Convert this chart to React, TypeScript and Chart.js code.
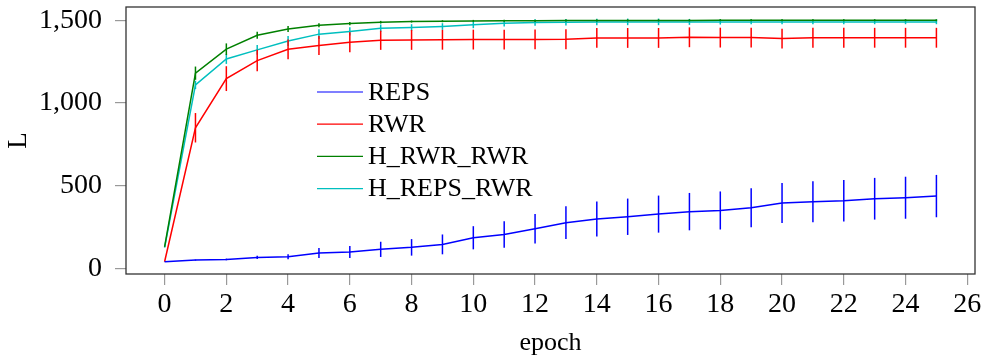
import React, { useEffect, useRef } from "react";
import { Chart, registerables } from "chart.js";

Chart.register(...registerables);

const epochs = [0, 1, 2, 3, 4, 5, 6, 7, 8, 9, 10, 11, 12, 13, 14, 15, 16, 17, 18, 19, 20, 21, 22, 23, 24, 25];
const xTickValues = [0, 2, 4, 6, 8, 10, 12, 14, 16, 18, 20, 22, 24, 26];
const yTickValues = [0, 500, 1000, 1500];

const seriesNames = ["REPS", "RWR", "H_RWR_RWR", "H_REPS_RWR"];

const repsMean = [40, 50, 54, 66, 70, 93, 99, 115, 127, 145, 185, 205, 240, 276, 298, 312, 328, 343, 350, 367, 395, 403, 409, 421, 427, 437];
const repsErr = [0, 3, 5, 10, 15, 30, 36, 46, 50, 60, 70, 80, 89, 99, 106, 110, 112, 113, 115, 118, 121, 124, 125, 126, 127, 128];

const rwrMean = [40, 850, 1147, 1256, 1324, 1347, 1367, 1379, 1381, 1382, 1383, 1383, 1384, 1385, 1393, 1393, 1393, 1397, 1395, 1395, 1389, 1394, 1394, 1394, 1394, 1394];
const rwrErr = [0, 89, 75, 65, 60, 57, 60, 58, 60, 60, 60, 60, 60, 60, 60, 60, 60, 60, 60, 60, 60, 60, 60, 60, 60, 60];

const hRwrMean = [130, 1180, 1325, 1409, 1447, 1470, 1480, 1488, 1492, 1494, 1496, 1497, 1497, 1498, 1498, 1499, 1499, 1499, 1500, 1500, 1500, 1500, 1500, 1500, 1500, 1500];
const hRwrErr = [0, 40, 35, 21, 18, 12, 10, 8, 6, 6, 6, 6, 6, 6, 6, 6, 6, 6, 6, 6, 6, 6, 6, 6, 6, 6];

const hRepsMean = [125, 1109, 1266, 1321, 1375, 1416, 1432, 1452, 1456, 1462, 1472, 1482, 1486, 1488, 1489, 1490, 1490, 1490, 1490, 1490, 1490, 1490, 1490, 1490, 1490, 1490];
const hRepsErr = [0, 25, 30, 30, 30, 30, 25, 22, 20, 20, 20, 20, 20, 20, 20, 20, 20, 18, 16, 15, 14, 14, 14, 14, 14, 14];

const seriesMeans = [repsMean, rwrMean, hRwrMean, hRepsMean];
const seriesErrs = [repsErr, rwrErr, hRwrErr, hRepsErr];
const seriesColors = ["#0000ff", "#ff0000", "#008000", "#00bfbf"];

const FONT = "'Liberation Serif', 'Times New Roman', serif";

const errorBarPlugin = {
  id: "errorBars",
  afterDatasetDraw(chart: any, args: any) {
    const ds = chart.data.datasets[args.index];
    const errs: number[] = ds.errors;
    if (!errs) return;
    const xs = chart.scales.x;
    const ys = chart.scales.y;
    const ctx = chart.ctx;
    ctx.save();
    ctx.strokeStyle = ds.borderColor;
    ctx.lineWidth = 1.5;
    ds.data.forEach((p: any, i: number) => {
      const e = errs[i];
      if (!e) return;
      const x = xs.getPixelForValue(p.x);
      ctx.beginPath();
      ctx.moveTo(x, ys.getPixelForValue(p.y - e));
      ctx.lineTo(x, ys.getPixelForValue(p.y + e));
      ctx.stroke();
    });
    ctx.restore();
  },
};

const boxPlugin = {
  id: "box",
  afterDraw(chart: any) {
    const { left, top, right, bottom } = chart.chartArea;
    const ctx = chart.ctx;
    ctx.save();
    ctx.strokeStyle = "#333";
    ctx.lineWidth = 1.3;
    ctx.strokeRect(left, top, right - left, bottom - top);
    ctx.restore();
  },
};

const innerLegendPlugin = {
  id: "innerLegend",
  afterDraw(chart: any) {
    const { left, top } = chart.chartArea;
    const ctx = chart.ctx;
    const x0 = left + 191;
    const y0 = top + 85;
    const rowH = 32.2;
    ctx.save();
    ctx.font = `26px ${FONT}`;
    ctx.textBaseline = "middle";
    ctx.fillStyle = "#000";
    chart.data.datasets.forEach((ds: any, i: number) => {
      const y = y0 + i * rowH;
      ctx.strokeStyle = ds.borderColor;
      ctx.lineWidth = 1.2;
      ctx.beginPath();
      ctx.moveTo(x0, y);
      ctx.lineTo(x0 + 46, y);
      ctx.stroke();
      ctx.fillText(ds.label, x0 + 51, y + 1);
    });
    ctx.restore();
  },
};

export default function App() {
  const canvasRef = useRef<HTMLCanvasElement | null>(null);

  useEffect(() => {
    document.body.style.margin = "0";
    const canvas = canvasRef.current;
    if (!canvas) return;
    const chart = new Chart(canvas, {
      type: "line",
      data: {
        datasets: seriesNames.map((name, s) => ({
          label: name,
          data: epochs.map((e, i) => ({ x: e, y: seriesMeans[s][i] })),
          errors: seriesErrs[s],
          borderColor: seriesColors[s],
          backgroundColor: seriesColors[s],
          borderWidth: 1.5,
          pointRadius: 0,
          tension: 0,
          fill: false,
        })) as any,
      },
      options: {
        animation: false,
        responsive: true,
        maintainAspectRatio: false,
        layout: { padding: { left: 0, right: 10, top: 7, bottom: 0 } },
        plugins: {
          legend: { display: false },
          tooltip: { enabled: false },
        },
        scales: {
          x: {
            type: "linear",
            min: -1.25,
            max: 26.25,
            afterBuildTicks: (scale: any) => {
              scale.ticks = xTickValues.map((v) => ({ value: v }));
            },
            afterFit: (scale: any) => {
              scale.height = 85;
              scale.paddingLeft = 0;
              scale.paddingRight = 0;
            },
            grid: { drawOnChartArea: false, drawTicks: true, tickLength: 11, color: "#999", lineWidth: 1.2 },
            border: { display: false },
            ticks: { font: { family: FONT, size: 28 }, color: "#000", padding: 3, maxRotation: 0, autoSkip: false },
            title: { display: true, text: "epoch", font: { family: FONT, size: 26 }, color: "#000", padding: { top: 0, bottom: 0 } },
          },
          y: {
            type: "linear",
            min: -34,
            max: 1580,
            afterBuildTicks: (scale: any) => {
              scale.ticks = yTickValues.map((v) => ({ value: v }));
            },
            afterFit: (scale: any) => {
              scale.width = 126;
              scale.paddingTop = 0;
              scale.paddingBottom = 0;
            },
            grid: { drawOnChartArea: false, drawTicks: true, tickLength: 11, color: "#999", lineWidth: 1.2 },
            border: { display: false },
            ticks: {
              font: { family: FONT, size: 28 },
              color: "#000",
              padding: 13,
              callback: (v: any) => Number(v).toLocaleString("en-US"),
            },
            title: { display: true, text: "L", font: { family: FONT, size: 27 }, color: "#000", padding: { top: 3, bottom: 0 } },
          },
        },
      },
      plugins: [errorBarPlugin, boxPlugin, innerLegendPlugin],
    });
    return () => chart.destroy();
  }, []);

  return (
    <div style={{ width: 985, height: 359, position: "relative" }}>
      <canvas ref={canvasRef} />
    </div>
  );
}
